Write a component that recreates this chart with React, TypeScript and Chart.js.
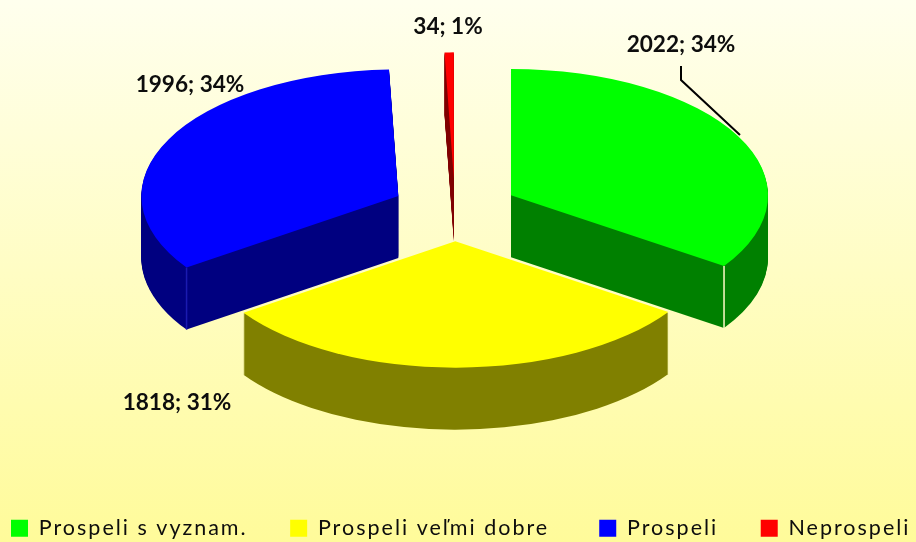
import React, { useEffect, useRef } from "react";
import { Chart, registerables } from "chart.js";

Chart.register(...registerables);

const categories = ["Prospeli s vyznam.", "Prospeli veľmi dobre", "Prospeli", "Neprospeli"];
const values = [2022, 1818, 1996, 34];
const topColors = ["#00ff00", "#ffff00", "#0000ff", "#ff0000"];
const wallColors = ["#008000", "#808000", "#000080", "#800000"];
const cornerColors = ["#fffbc8", null, "#1a1ab0", null];
const drawOrder = [3, 2, 0, 1];
const labelCenters = [
  [681, 45],
  [177, 403],
  [190, 85],
  [448, 27],
];
const legendGaps = ["     ", "      ", "     ", ""];

const CENTER_X = 455;
const CENTER_Y = 210;
const SQUASH = 0.492;
const DEPTH = 62;
const EXPLODE = 63.4;
const RIM = 257;

const pie3d = {
  id: "pie3d",
  beforeLayout(chart: any) {
    chart.ctx.letterSpacing = "2px";
  },
  beforeDraw(chart: any) {
    chart.ctx.letterSpacing = "2px";
  },
  beforeDatasetsDraw(chart: any) {
    const ctx = chart.ctx;
    const arcs = chart.getDatasetMeta(0).data;
    for (const i of drawOrder) {
      const arc = arcs[i];
      const mid = (arc.startAngle + arc.endAngle) / 2;
      const dx = Math.cos(mid) * EXPLODE;
      const dy = Math.sin(mid) * EXPLODE;
      const R = arc.outerRadius;
      const place = (drop: number) => {
        ctx.translate(CENTER_X + dx, CENTER_Y + dy * SQUASH + drop);
        ctx.scale(1, SQUASH);
        ctx.translate(-arc.x, -arc.y);
      };
      ctx.fillStyle = wallColors[i];
      for (let k = DEPTH; k >= 1; k--) {
        ctx.save();
        place(k);
        ctx.beginPath();
        ctx.moveTo(arc.x, arc.y);
        ctx.arc(arc.x, arc.y, R, arc.startAngle, arc.endAngle);
        ctx.closePath();
        ctx.fill();
        ctx.restore();
      }
      ctx.save();
      place(0);
      arc.draw(ctx);
      ctx.restore();
      if (cornerColors[i]) {
        const angle = i === 0 ? arc.endAngle : arc.startAngle;
        const px = CENTER_X + dx + Math.cos(angle) * R;
        const py = CENTER_Y + dy * SQUASH + Math.sin(angle) * R * SQUASH;
        ctx.save();
        ctx.strokeStyle = cornerColors[i];
        ctx.lineWidth = 1.5;
        ctx.beginPath();
        ctx.moveTo(px, py);
        ctx.lineTo(px, py + DEPTH);
        ctx.stroke();
        ctx.restore();
      }
    }
    return false;
  },
  afterDraw(chart: any) {
    const ctx = chart.ctx;
    const total = values.reduce((a, b) => a + b, 0);
    ctx.save();
    ctx.letterSpacing = "0px";
    ctx.fillStyle = "#0d0d0d";
    ctx.font = "bold 22.6px Lato";
    ctx.textAlign = "center";
    ctx.textBaseline = "middle";
    values.forEach((v, i) => {
      const [x, y] = labelCenters[i];
      ctx.fillText(`${v}; ${Math.round((v / total) * 100)}%`, x, y);
    });
    ctx.strokeStyle = "#000000";
    ctx.lineWidth = 2;
    ctx.beginPath();
    ctx.moveTo(681, 66);
    ctx.lineTo(681, 80);
    ctx.lineTo(740, 135);
    ctx.stroke();
    ctx.restore();
  },
};

export default function App() {
  const ref = useRef<HTMLCanvasElement>(null);
  useEffect(() => {
    const chart = new Chart(ref.current!, {
      type: "pie",
      plugins: [pie3d],
      data: {
        labels: categories.map((c, i) => c + legendGaps[i]),
        datasets: [
          {
            data: values,
            backgroundColor: topColors,
            borderWidth: 0,
            radius: RIM,
          } as any,
        ],
      },
      options: {
        animation: false,
        responsive: false,
        layout: { padding: { left: 6, right: -40, bottom: -7 } },
        plugins: {
          tooltip: { enabled: false },
          legend: {
            position: "bottom",
            align: "start",
            labels: {
              boxWidth: 17,
              boxHeight: 17,
              padding: 5,
              color: "#0d0d0d",
              font: { family: "Lato", size: 21.5 },
            },
          },
        },
      },
    });
    return () => chart.destroy();
  }, []);
  return (
    <div
      style={{
        position: "absolute",
        left: 0,
        top: 0,
        width: 916,
        height: 542,
        background: "linear-gradient(#ffffee, #fffb9a)",
      }}
    >
      <canvas ref={ref} width={916} height={542} style={{ display: "block" }} />
    </div>
  );
}
